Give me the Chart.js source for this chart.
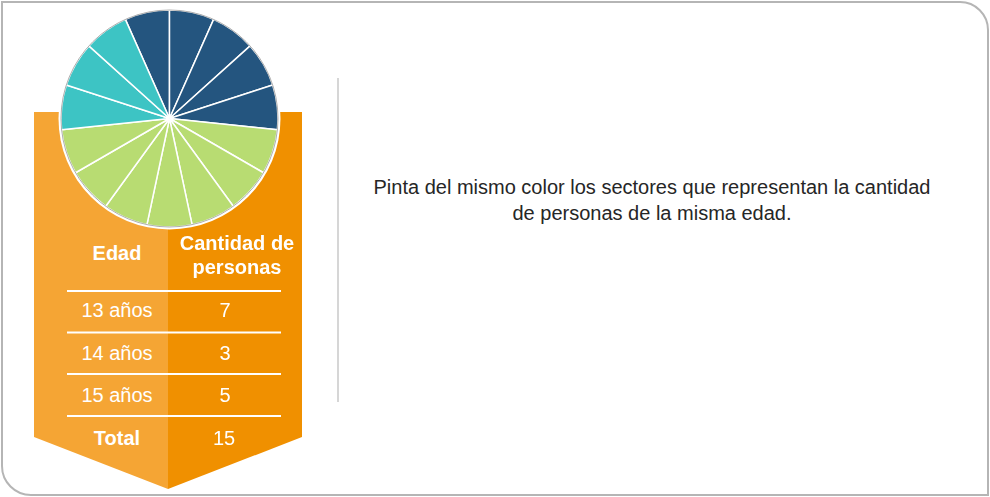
<!DOCTYPE html>
<html>
<head>
<meta charset="utf-8">
<script src="https://cdn.jsdelivr.net/npm/chart.js@4.4.1/dist/chart.umd.min.js"></script>
<style>
  html, body { margin: 0; padding: 0; background: #ffffff; width: 990px; height: 497px; overflow: hidden; }
  body { position: relative; font-family: "Liberation Sans", Arial, sans-serif; }
  #frame { position: absolute; left: 1px; top: 1px; width: 988px; height: 495px; box-sizing: border-box;
           border: 2px solid #b5b5b5; border-radius: 0 29px 0 30px; }
  #bg { position: absolute; left: 0; top: 0; }
  #pieWrap { position: absolute; left: 49px; top: -2px; width: 241px; height: 241px; }
  .t { position: absolute; color: #ffffff; font-size: 20px; text-align: center; white-space: nowrap; line-height: 24px; transform: translate(-50%, -50%); }
  .b { font-weight: bold; }
  #instr { position: absolute; left: 352px; width: 600px; top: 174px; text-align: center; font-size: 20px; line-height: 26px; color: #262626; }
</style>
</head>
<body>
<div id="frame"></div>
<svg id="bg" width="990" height="497">
  <polygon points="34,112 168,112 168,489 34,437" fill="#f5a534"/>
  <polygon points="168,112 302,112 302,437 168,489" fill="#f09000"/>
  <g stroke="#ffffff" stroke-width="2">
    <line x1="67" y1="291" x2="281" y2="291"/>
    <line x1="67" y1="332.5" x2="281" y2="332.5"/>
    <line x1="67" y1="374" x2="281" y2="374"/>
    <line x1="67" y1="416" x2="281" y2="416"/>
  </g>
  <line x1="338" y1="78" x2="338" y2="402" stroke="#c8c8c8" stroke-width="1.5"/>
</svg>
<div id="pieWrap"><canvas id="pie" width="241" height="241"></canvas></div>
<div id="table"></div>
<div id="instr">Pinta del mismo color los sectores que representan la cantidad<br>de personas de la misma edad.</div>
<script>
// ---- data ----
const ages = ['13 años', '14 años', '15 años'];
const counts = [7, 3, 5];
const totalLabel = 'Total';
const headers = ['Edad', 'Cantidad de personas'];
const ageColors = ['#b8dc72', '#3dc4c4', '#24557f'];
// order in which the age groups appear clockwise around the pie (indices into ages)
const pieOrder = [2, 0, 1];

// ---- build pie slices: one equal sector per person ----
const sliceLabels = [];
const sliceData = [];
const sliceColors = [];
pieOrder.forEach(i => {
  for (let k = 0; k < counts[i]; k++) {
    sliceLabels.push(ages[i]);
    sliceData.push(1);
    sliceColors.push(ageColors[i]);
  }
});
const total = counts.reduce((a, b) => a + b, 0);

const ringPlugin = {
  id: 'ring',
  beforeDatasetsDraw(chart) {
    const arc = chart.getDatasetMeta(0).data[0];
    if (!arc) return;
    const ctx = chart.ctx;
    ctx.save();
    ctx.beginPath();
    ctx.arc(arc.x, arc.y, arc.outerRadius + 2.5, 0, Math.PI * 2);
    ctx.fillStyle = '#ffffff';
    ctx.fill();
    ctx.restore();
  },
  afterDatasetsDraw(chart) {
    const arc = chart.getDatasetMeta(0).data[0];
    if (!arc) return;
    const ctx = chart.ctx;
    ctx.save();
    ctx.beginPath();
    ctx.arc(arc.x, arc.y, arc.outerRadius, 0, Math.PI * 2);
    ctx.strokeStyle = 'rgba(110,110,110,0.55)';
    ctx.lineWidth = 1;
    ctx.stroke();
    ctx.restore();
  }
};

new Chart(document.getElementById('pie'), {
  type: 'pie',
  data: {
    labels: sliceLabels,
    datasets: [{
      data: sliceData,
      backgroundColor: sliceColors,
      borderColor: '#ffffff',
      borderWidth: 1.5,
      radius: 108.5
    }]
  },
  options: {
    responsive: false,
    animation: false,
    rotation: -24,
    layout: { padding: 0 },
    plugins: { legend: { display: false }, tooltip: { enabled: false } }
  },
  plugins: [ringPlugin]
});

// ---- table text ----
const table = document.getElementById('table');
function addText(txt, x, y, bold) {
  const d = document.createElement('div');
  d.className = 't' + (bold ? ' b' : '');
  d.style.left = x + 'px';
  d.style.top = y + 'px';
  d.innerHTML = txt;
  table.appendChild(d);
}
addText(headers[0], 117, 253, true);
addText('Cantidad de<br>personas', 237, 255, true);
const rowY = [309.5, 352.5, 395];
ages.forEach((a, i) => {
  addText(a, 117, rowY[i], false);
  addText(String(counts[i]), 225, rowY[i], false);
});
addText(totalLabel, 117, 438, true);
addText(String(total), 224, 438, false);
</script>
</body>
</html>
